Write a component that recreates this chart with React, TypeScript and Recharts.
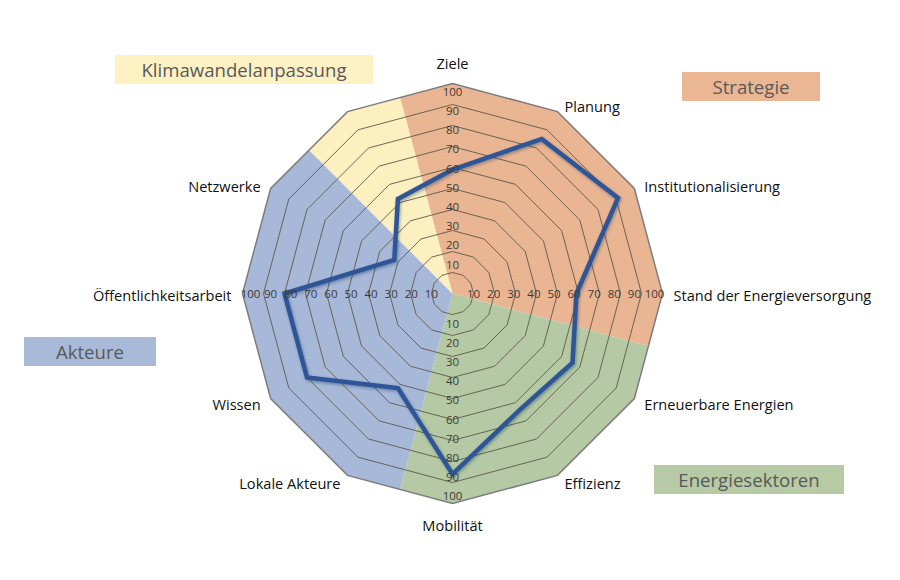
import React from 'react';
import { RadarChart, Radar, PolarAngleAxis, PolarRadiusAxis } from 'recharts';

// axes clockwise from the top; the 12th axis carries no label
const categories = [
  'Ziele',
  'Planung',
  'Institutionalisierung',
  'Stand der Energieversorgung',
  'Erneuerbare Energien',
  'Effizienz',
  'Mobilität',
  'Lokale Akteure',
  'Wissen',
  'Öffentlichkeitsarbeit',
  'Netzwerke',
  '',
];
const scores = [59, 85, 91, 59, 66, 64, 86, 52, 80, 80, 32, 52];
const fullScale = [100, 100, 100, 100, 100, 100, 100, 100, 100, 100, 100, 100];
const radiusTicks = [10, 20, 30, 40, 50, 60, 70, 80, 90, 100];
const tickAngles = [90, 0, -90, 180];

// sector groups, in axis order starting at "Ziele"
const groupNames = ['Strategie', 'Energiesektoren', 'Akteure', 'Klimawandelanpassung'];
const groupSizes = [4, 3, 4, 1];
const groupColors = ['#eab592', '#b5c9a4', '#a8b8d8', '#fdf0c0'];

const data = categories.map((name, i) => ({ name, score: scores[i], full: fullScale[i] }));

const FONT = '"Open Sans", "DejaVu Sans", sans-serif';

function SectorBackground(props: any) {
  const points = props.points || [];
  const n = points.length;
  if (!n) return null;
  const cx = points[0].cx;
  const cy = points[0].cy;
  const mid = (a: any, b: any) => [(a.x + b.x) / 2, (a.y + b.y) / 2];

  const sectors: React.ReactNode[] = [];
  let start = 0;
  groupSizes.forEach((size, g) => {
    const prev = points[(start - 1 + n) % n];
    const first = points[start];
    const last = points[(start + size - 1) % n];
    const next = points[(start + size) % n];
    const pts: number[][] = [[cx, cy], mid(prev, first)];
    for (let k = 0; k < size; k++) {
      const p = points[(start + k) % n];
      pts.push([p.x, p.y]);
    }
    pts.push(mid(last, next));
    sectors.push(
      <polygon key={groupNames[g]} points={pts.map((p) => p.join(',')).join(' ')} fill={groupColors[g]} stroke="none" />
    );
    start += size;
  });

  const rings = radiusTicks.map((t) => {
    const f = t / 100;
    const pts = points.map((p: any) => `${cx + (p.x - cx) * f},${cy + (p.y - cy) * f}`).join(' ');
    const outer = t === 100;
    return (
      <polygon
        key={t}
        points={pts}
        fill="none"
        stroke={outer ? '#7d7d7d' : '#5c5a4a'}
        strokeWidth={outer ? 1.5 : 0.9}
      />
    );
  });

  return (
    <g>
      <defs>
        <filter id="lineShadow" x="-10%" y="-10%" width="120%" height="120%">
          <feDropShadow dx="1" dy="1.5" stdDeviation="1.5" floodColor="#1f3864" floodOpacity="0.45" />
        </filter>
      </defs>
      {sectors}
      {rings}
    </g>
  );
}

function AngleTick(props: any) {
  const { x, y, payload } = props;
  const rad = (payload.coordinate * Math.PI) / 180;
  const dx = Math.cos(rad);
  const dy = -Math.sin(rad);
  let tx = x;
  let ty = y + 1;
  let anchor: 'start' | 'middle' | 'end' = 'middle';
  if (Math.abs(dx) < 0.01) {
    ty = y + (dy < 0 ? -13 : 13);
  } else if (dx > 0) {
    anchor = 'start';
    tx = x + 3;
  } else {
    anchor = 'end';
    tx = x - 3;
  }
  return (
    <text x={tx} y={ty} textAnchor={anchor} dominantBaseline="central" fontSize={14.6} fill="#111" fontFamily={FONT}>
      {payload.value}
    </text>
  );
}

// Excel spaces the value labels a little tighter than the rings
function RadiusTick(props: any) {
  const { x, y, payload, axisAngle } = props;
  const rad = (axisAngle * Math.PI) / 180;
  const ux = Math.cos(rad);
  const uy = -Math.sin(rad);
  const v = payload.value;
  const vertical = Math.abs(ux) < 0.01;
  const shift = vertical ? 10.3 - 0.18 * v : 1 - 0.09 * v;
  return (
    <text
      x={x + ux * shift}
      y={y + uy * shift}
      textAnchor="middle"
      dominantBaseline="central"
      fontSize={11.5}
      fill="#3b3a36"
      fontFamily={FONT}
    >
      {v}
    </text>
  );
}

const boxStyle = (left: number, top: number, width: number, bg: string): React.CSSProperties => ({
  position: 'absolute',
  left,
  top,
  width,
  height: 29,
  background: bg,
  color: '#595959',
  fontFamily: FONT,
  fontSize: 18.6,
  lineHeight: '29px',
  textAlign: 'center',
});

export default function App() {
  return (
    <div style={{ position: 'absolute', left: 0, top: 0, width: 900, height: 580, background: '#fff' }}>
      <RadarChart
        width={900}
        height={580}
        data={data}
        cx={452.5}
        cy={293.5}
        outerRadius={210}
        margin={{ top: 0, right: 0, bottom: 0, left: 0 }}
      >
        <PolarAngleAxis dataKey="name" tick={<AngleTick />} tickLine={false} axisLine={false} />
        {tickAngles.map((a, i) => (
          <PolarRadiusAxis
            key={a}
            radiusAxisId={i}
            angle={a}
            domain={[0, 100]}
            type="number"
            ticks={radiusTicks}
            tick={<RadiusTick axisAngle={a} />}
            axisLine={false}
            tickLine={false}
          />
        ))}
        <Radar dataKey="full" radiusAxisId={0} shape={(p: any) => <SectorBackground {...p} />} isAnimationActive={false} />
        {tickAngles.slice(1).map((a, i) => (
          <Radar
            key={a}
            dataKey="full"
            radiusAxisId={i + 1}
            stroke="none"
            fill="none"
            legendType="none"
            isAnimationActive={false}
          />
        ))}
        <Radar
          dataKey="score"
          radiusAxisId={0}
          stroke="#2f5597"
          strokeWidth={4.5}
          fill="none"
          strokeLinejoin="miter"
          filter="url(#lineShadow)"
          isAnimationActive={false}
        />
      </RadarChart>
      <div style={boxStyle(115, 55, 258, '#fef1c4')}>Klimawandelanpassung</div>
      <div style={boxStyle(682, 72, 138, '#ebb694')}>Strategie</div>
      <div style={boxStyle(24, 337, 132, '#a9b9d8')}>Akteure</div>
      <div style={boxStyle(654, 465, 190, '#b6caa6')}>Energiesektoren</div>
    </div>
  );
}
